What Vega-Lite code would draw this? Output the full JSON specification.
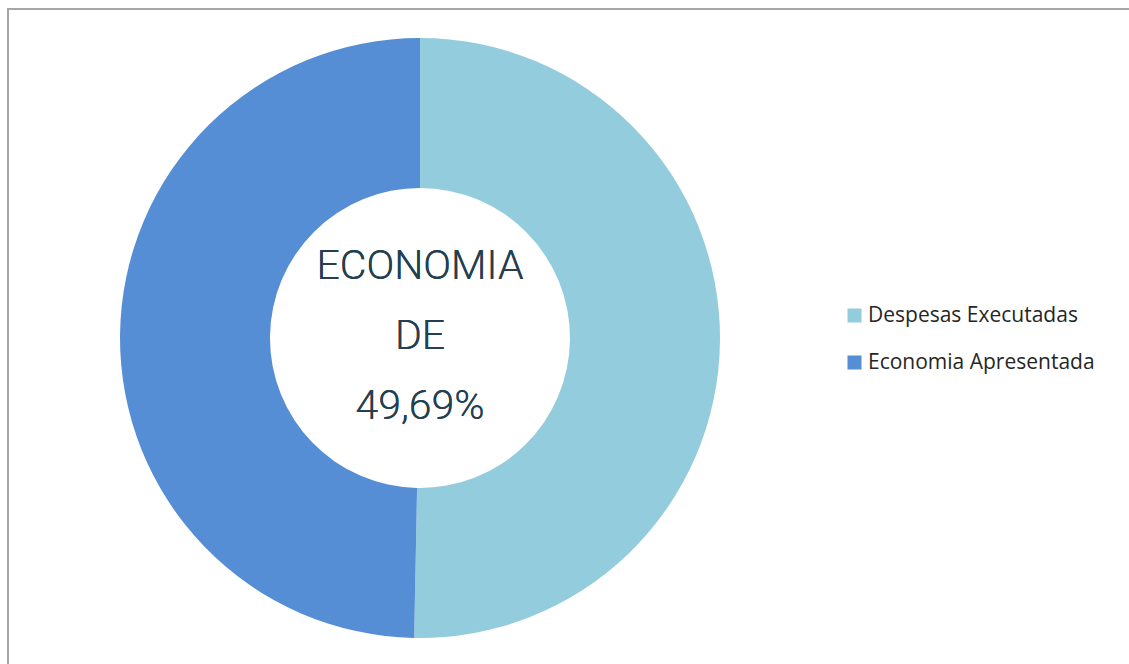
{
  "$schema": "https://vega.github.io/schema/vega-lite/v6.json",
  "autosize": {"type": "none"},
  "width": 1124,
  "height": 658,
  "padding": {"left": 8, "top": 9, "right": 0, "bottom": 0},
  "background": "#ffffff",
  "view": {"stroke": "#a6a6a6", "strokeWidth": 2},
  "data": {"values": [
    {"categoria": "Despesas Executadas", "percentual": 50.31, "ordem": 1},
    {"categoria": "Economia Apresentada", "percentual": 49.69, "ordem": 2}
  ]},
  "layer": [
    {
      "mark": {"type": "arc", "innerRadius": 150, "outerRadius": 300, "x": 412, "y": 329},
      "encoding": {
        "theta": {"field": "percentual", "type": "quantitative", "stack": true},
        "order": {"field": "ordem", "type": "quantitative"},
        "color": {
          "field": "categoria",
          "type": "nominal",
          "scale": {"domain": ["Despesas Executadas", "Economia Apresentada"], "range": ["#93CDDD", "#558ED5"]},
          "legend": {
            "title": null,
            "orient": "none",
            "legendX": 836,
            "legendY": 296,
            "symbolType": "square",
            "symbolSize": 196,
            "symbolStrokeWidth": 0,
            "labelFont": "Open Sans",
            "labelFontSize": 21,
            "labelColor": "#262626",
            "labelOffset": 3,
            "labelLimit": 300,
            "rowPadding": 25
          }
        }
      }
    },
    {
      "mark": {
        "type": "text",
        "x": 412,
        "y": 258,
        "align": "center",
        "baseline": "middle",
        "font": "Roboto",
        "fontWeight": 300,
        "fontSize": 41,
        "lineHeight": 70,
        "color": "#243F50",
        "text": ["ECONOMIA", "DE", "49,69%"]
      },
      "encoding": {}
    }
  ]
}
